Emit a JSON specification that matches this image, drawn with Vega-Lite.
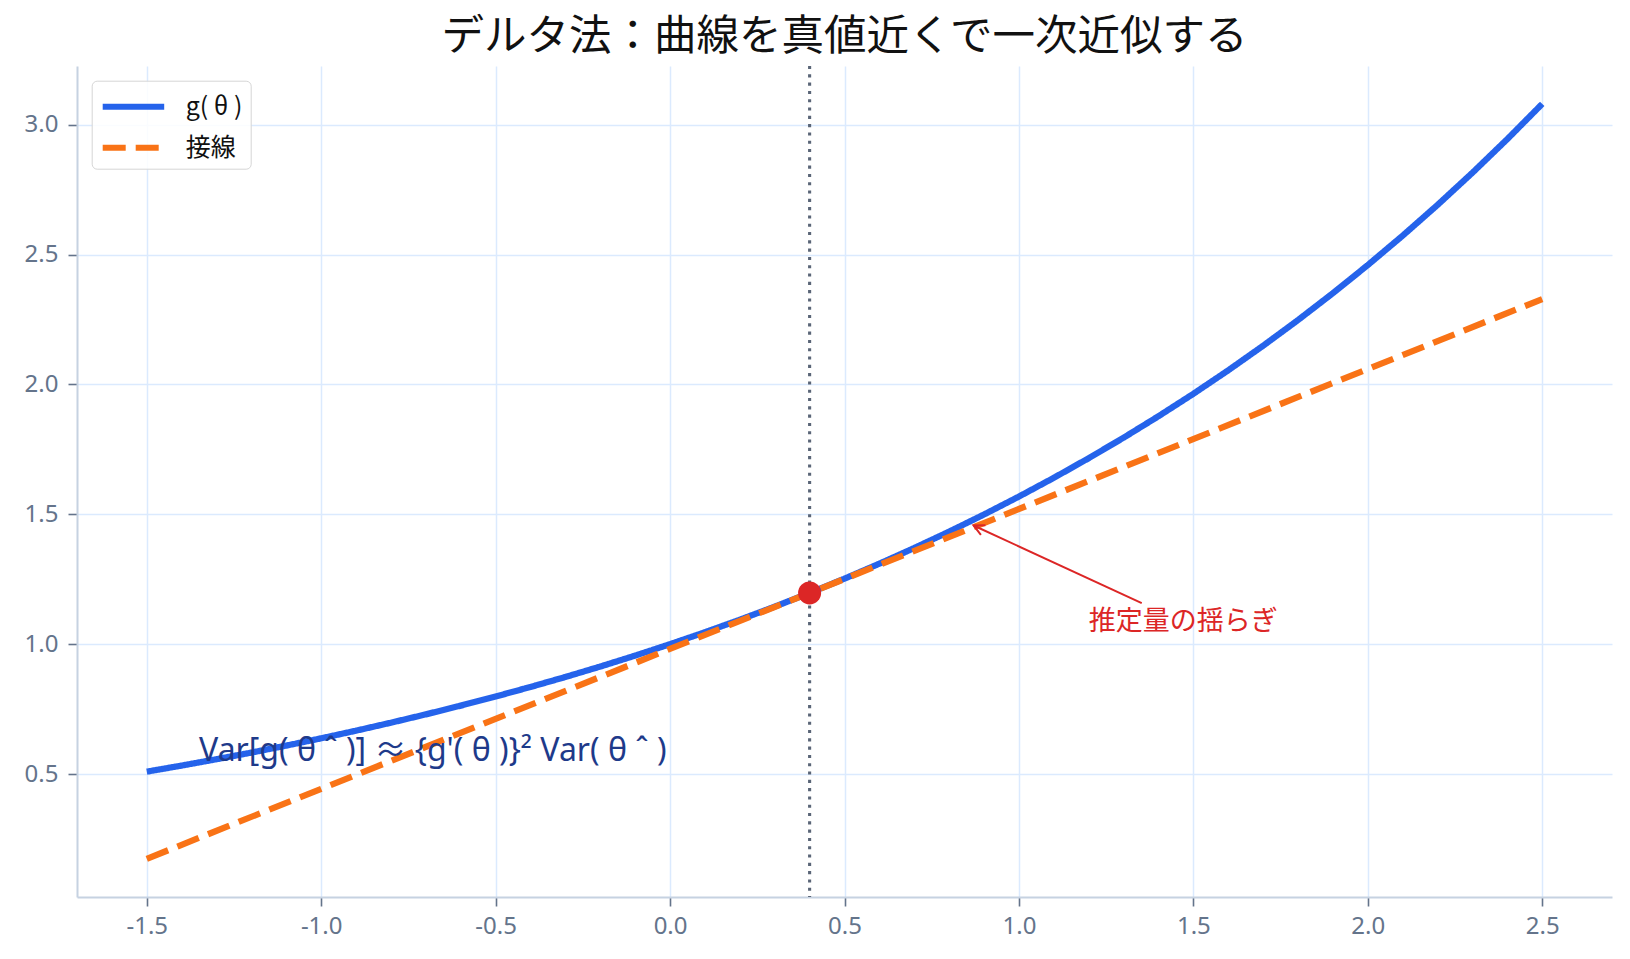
{
  "$schema": "https://vega.github.io/schema/vega-lite/v6.json",
  "width": 1535,
  "height": 831,
  "autosize": {"type": "none"},
  "padding": {"left": 77, "top": 66, "right": 18, "bottom": 62},
  "background": "white",
  "title": {
    "text": "デルタ法：曲線を真値近くで一次近似する",
    "font": "Noto Sans CJK JP",
    "fontSize": 42.5,
    "fontWeight": "normal",
    "color": "#111111",
    "anchor": "middle",
    "offset": 6
  },
  "config": {
    "view": {"stroke": null},
    "font": "Noto Sans CJK JP",
    "axis": {
      "title": null,
      "labelFont": "Noto Sans, Noto Sans CJK JP",
      "labelFontSize": 24,
      "labelColor": "#64748b",
      "tickColor": "#64748b",
      "tickSize": 9,
      "tickWidth": 1.6,
      "domainColor": "#c6d2e1",
      "domainWidth": 2,
      "gridColor": "#dbeafe",
      "gridWidth": 1.5,
      "labelPadding": 8,
      "labelExpr": "replace(format(datum.value, '.1f'), '\u2212', '-')"
    }
  },
  "datasets": {
    "curves": [
      {"series": "g( θ )", "x": -1.5, "y": 0.5092},
      {"series": "g( θ )", "x": -1.4, "y": 0.5326},
      {"series": "g( θ )", "x": -1.3, "y": 0.5571},
      {"series": "g( θ )", "x": -1.2, "y": 0.5827},
      {"series": "g( θ )", "x": -1.1, "y": 0.6096},
      {"series": "g( θ )", "x": -1.0, "y": 0.6376},
      {"series": "g( θ )", "x": -0.9, "y": 0.6670},
      {"series": "g( θ )", "x": -0.8, "y": 0.6977},
      {"series": "g( θ )", "x": -0.7, "y": 0.7298},
      {"series": "g( θ )", "x": -0.6, "y": 0.7634},
      {"series": "g( θ )", "x": -0.5, "y": 0.7985},
      {"series": "g( θ )", "x": -0.4, "y": 0.8353},
      {"series": "g( θ )", "x": -0.3, "y": 0.8737},
      {"series": "g( θ )", "x": -0.2, "y": 0.9139},
      {"series": "g( θ )", "x": -0.1, "y": 0.9560},
      {"series": "g( θ )", "x": 0.0, "y": 1.0},
      {"series": "g( θ )", "x": 0.1, "y": 1.0460},
      {"series": "g( θ )", "x": 0.2, "y": 1.0942},
      {"series": "g( θ )", "x": 0.3, "y": 1.1445},
      {"series": "g( θ )", "x": 0.4, "y": 1.1972},
      {"series": "g( θ )", "x": 0.5, "y": 1.2523},
      {"series": "g( θ )", "x": 0.6, "y": 1.3100},
      {"series": "g( θ )", "x": 0.7, "y": 1.3703},
      {"series": "g( θ )", "x": 0.8, "y": 1.4333},
      {"series": "g( θ )", "x": 0.9, "y": 1.4993},
      {"series": "g( θ )", "x": 1.0, "y": 1.5683},
      {"series": "g( θ )", "x": 1.1, "y": 1.6405},
      {"series": "g( θ )", "x": 1.2, "y": 1.7160},
      {"series": "g( θ )", "x": 1.3, "y": 1.7950},
      {"series": "g( θ )", "x": 1.4, "y": 1.8776},
      {"series": "g( θ )", "x": 1.5, "y": 1.9640},
      {"series": "g( θ )", "x": 1.6, "y": 2.0544},
      {"series": "g( θ )", "x": 1.7, "y": 2.1490},
      {"series": "g( θ )", "x": 1.8, "y": 2.2479},
      {"series": "g( θ )", "x": 1.9, "y": 2.3514},
      {"series": "g( θ )", "x": 2.0, "y": 2.4596},
      {"series": "g( θ )", "x": 2.1, "y": 2.5728},
      {"series": "g( θ )", "x": 2.2, "y": 2.6912},
      {"series": "g( θ )", "x": 2.3, "y": 2.8151},
      {"series": "g( θ )", "x": 2.4, "y": 2.9447},
      {"series": "g( θ )", "x": 2.5, "y": 3.0802},
      {"series": "接線", "x": -1.5, "y": 0.1736},
      {"series": "接線", "x": 2.5, "y": 2.3286}
    ],
    "vline": [{"x": 0.4}],
    "point": [{"x": 0.4, "y": 1.1972}],
    "arrow": [
      {"part": "shaft", "o": 1, "x": 1.352, "y": 1.158},
      {"part": "shaft", "o": 2, "x": 0.87, "y": 1.457},
      {"part": "head", "o": 1, "x": 0.904, "y": 1.458},
      {"part": "head", "o": 2, "x": 0.87, "y": 1.457},
      {"part": "head", "o": 3, "x": 0.891, "y": 1.421}
    ],
    "notes": [
      {"kind": "formula", "x": -1.35, "y": 0.55, "label": "Var[g( θ ˆ )] ≈ {g'( θ )}² Var( θ ˆ )"},
      {"kind": "annot", "x": 1.2, "y": 1.087, "label": "推定量の揺らぎ"}
    ]
  },
  "layer": [
    {
      "data": {"name": "curves"},
      "mark": {"type": "line", "strokeWidth": 6.25, "strokeCap": "butt"},
      "encoding": {
        "x": {
          "field": "x",
          "type": "quantitative",
          "scale": {"domain": [-1.7, 2.7], "nice": false, "zero": false},
          "axis": {"values": [-1.5, -1.0, -0.5, 0.0, 0.5, 1.0, 1.5, 2.0, 2.5]}
        },
        "y": {
          "field": "y",
          "type": "quantitative",
          "scale": {"domain": [0.0266, 3.226], "nice": false, "zero": false},
          "axis": {"values": [0.5, 1.0, 1.5, 2.0, 2.5, 3.0], "labelPadding": 10}
        },
        "color": {
          "field": "series",
          "type": "nominal",
          "scale": {"domain": ["g( θ )", "接線"], "range": ["#2563eb", "#f97316"]},
          "legend": {
            "orient": "none",
            "legendX": 14.7,
            "legendY": 14.7,
            "title": null,
            "symbolType": "M-1,0H3.1",
            "symbolSize": 900,
            "symbolStrokeWidth": 6,
            "labelFontSize": 25,
            "labelFont": "Noto Sans CJK JP",
            "labelColor": "#111111",
            "labelOffset": 50,
            "padding": 8,
            "rowPadding": 10,
            "strokeColor": "#d6d6d6",
            "fillColor": "rgba(255,255,255,0.85)",
            "cornerRadius": 5
          }
        },
        "strokeDash": {
          "field": "series",
          "type": "nominal",
          "scale": {"domain": ["g( θ )", "接線"], "range": [[1, 0], [23, 10]]},
          "legend": {
            "orient": "none",
            "legendX": 14.7,
            "legendY": 14.7,
            "title": null,
            "symbolType": "M-1,0H3.1",
            "symbolSize": 900,
            "symbolStrokeWidth": 6,
            "labelFontSize": 25,
            "labelFont": "Noto Sans CJK JP",
            "labelColor": "#111111",
            "labelOffset": 50,
            "padding": 8,
            "rowPadding": 10,
            "strokeColor": "#d6d6d6",
            "fillColor": "rgba(255,255,255,0.85)",
            "cornerRadius": 5
          }
        }
      }
    },
    {
      "data": {"name": "vline"},
      "mark": {"type": "rule", "color": "#5a6577", "strokeWidth": 3.1, "strokeDash": [3.1, 5.2]},
      "encoding": {"x": {"field": "x", "type": "quantitative"}}
    },
    {
      "data": {"name": "point"},
      "mark": {"type": "point", "filled": true, "shape": "circle", "size": 530, "color": "#dc2626", "opacity": 1},
      "encoding": {
        "x": {"field": "x", "type": "quantitative"},
        "y": {"field": "y", "type": "quantitative"}
      }
    },
    {
      "data": {"name": "arrow"},
      "mark": {"type": "line", "color": "#dc2626", "strokeWidth": 2},
      "encoding": {
        "x": {"field": "x", "type": "quantitative"},
        "y": {"field": "y", "type": "quantitative"},
        "detail": {"field": "part"},
        "order": {"field": "o"}
      }
    },
    {
      "data": {"name": "notes"},
      "transform": [{"filter": "datum.kind === 'formula'"}],
      "mark": {"type": "text", "align": "left", "baseline": "alphabetic", "fontSize": 32, "color": "#1e3a8a", "font": "Noto Sans, Noto Sans CJK JP"},
      "encoding": {
        "x": {"field": "x", "type": "quantitative"},
        "y": {"field": "y", "type": "quantitative"},
        "text": {"field": "label"}
      }
    },
    {
      "data": {"name": "notes"},
      "transform": [{"filter": "datum.kind === 'annot'"}],
      "mark": {"type": "text", "align": "left", "baseline": "middle", "fontSize": 27, "color": "#dc2626", "font": "Noto Sans CJK JP"},
      "encoding": {
        "x": {"field": "x", "type": "quantitative"},
        "y": {"field": "y", "type": "quantitative"},
        "text": {"field": "label"}
      }
    }
  ]
}
